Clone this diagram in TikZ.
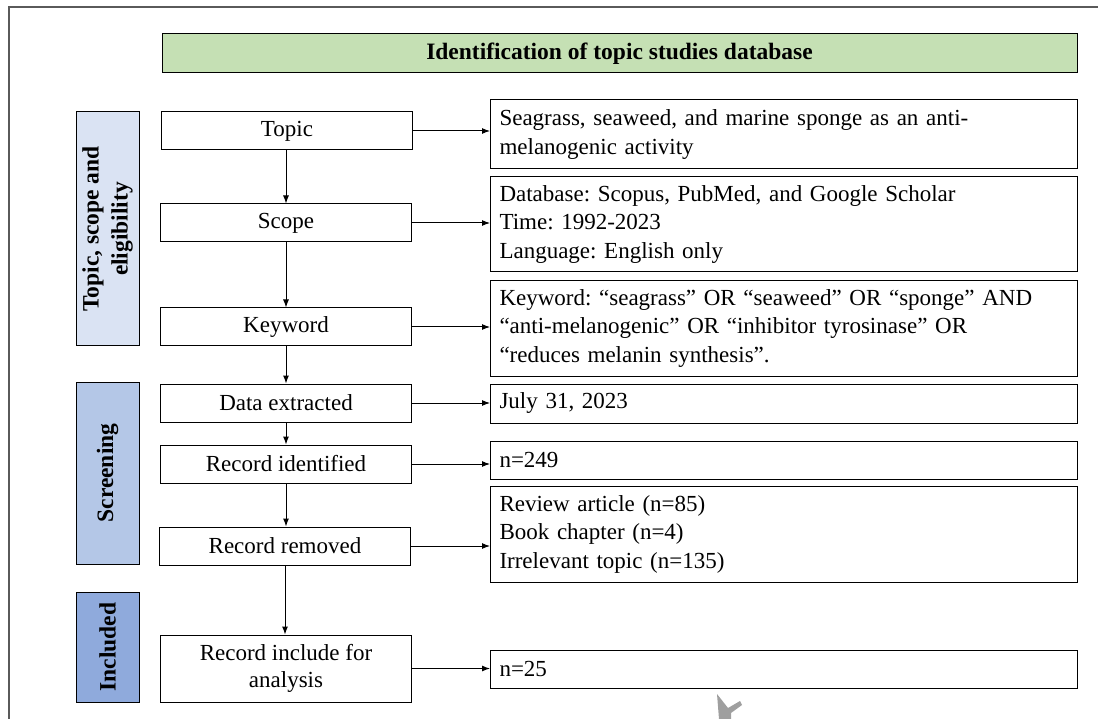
\documentclass[tikz,border=0pt]{standalone}
\usepackage{xcolor}
\usepackage{fontspec}
\setmainfont{Liberation Serif}
\usetikzlibrary{arrows.meta, positioning, calc}

\definecolor{headgreen}{HTML}{C5E0B4}
\definecolor{phaseone}{HTML}{DAE3F3}
\definecolor{phasetwo}{HTML}{B4C7E7}
\definecolor{phasethree}{HTML}{8FAADC}
\definecolor{framegray}{HTML}{5A5A5A}

\begin{document}
\frenchspacing
\begin{tikzpicture}[
	  x=1pt, y=-1pt,
	  font=\fontsize{23}{27}\selectfont,
	  stepbox/.style={
	    draw,
	    line width=1pt,
	    align=center,
	    minimum width=251pt,
	    minimum height=38pt,
	    inner sep=2pt
	  },
	  infobox/.style={
	    draw,
	    line width=1pt,
	    anchor=west,
	    align=left,
	    text width=569pt,
	    inner xsep=9pt,
	    inner ysep=2pt,
	    font=\fontsize{23}{28.5}\selectfont
	  },
	  phasebox/.style={
	    draw,
	    line width=1pt,
	    rotate=90,
	    align=center,
	    minimum height=63pt,
	    inner sep=2pt,
	    font=\fontsize{23.5}{29}\selectfont\bfseries
	  },
	  headbox/.style={draw, line width=1pt, fill=headgreen, minimum width=915pt,
	    minimum height=39pt, font=\fontsize{23.5}{27}\selectfont\bfseries},
	  arrow/.style={-{Latex[length=8pt,width=6pt]}, line width=1pt}
	]
	
	\useasboundingbox (0,0) rectangle (1098,719);
	\draw[framegray, line width=1.5pt] (9,719) -- (9,7) -- (1098,7);
	
	% Header
	\node[headbox] (head) at (619.5,53.5) {Identification of topic studies database};
	
	% Phase labels
	\node[phasebox, fill=phaseone, minimum width=234pt] (phtopic) at (107.5,229) {Topic, scope and\\eligibility};
	\node[phasebox, fill=phasetwo, minimum width=182pt] (phscreen) at (107.5,473) {Screening};
	\node[phasebox, fill=phasethree, minimum width=110pt] (phincl) at (107.5,647) {Included};
	
	% Step boxes
	\node[stepbox] (topic) at (287,131) {Topic};
	\node[stepbox] (scope) at (286,223) {Scope};
	\node[stepbox] (keyword) at (286,327) {Keyword};
	\node[stepbox] (data) at (286,403) {Data extracted};
	\node[stepbox] (ident) at (286,464) {Record identified};
	\node[stepbox] (removed) at (285,546) {Record removed};
	\node[stepbox, minimum height=67pt] (incl) at (286,668.5) {Record include for\\analysis};
	
	% Detail boxes
	\node[infobox, minimum height=69pt] (topicinfo) at (490,134.5)
	  {Seagrass, seaweed, and marine sponge as an anti-\\melanogenic activity};
	\node[infobox, minimum height=95pt] (scopeinfo) at (490,224.5)
	  {Database: Scopus, PubMed, and Google Scholar\\Time: 1992-2023\\Language: English only};
	\node[infobox, minimum height=95pt] (keyinfo) at (490,328.5)
	  {Keyword: “seagrass” OR “seaweed” OR “sponge” AND\\“anti-melanogenic” OR “inhibitor tyrosinase” OR\\“reduces melanin synthesis”.};
	\node[infobox, minimum height=39pt] (datainfo) at (490,403.5) {July 31, 2023};
	\node[infobox, minimum height=38pt] (identinfo) at (490,460) {n=249};
	\node[infobox, minimum height=96pt] (removedinfo) at (490,534)
	  {Review article (n=85)\\Book chapter (n=4)\\Irrelevant topic (n=135)};
	\node[infobox, minimum height=38pt] (inclinfo) at (490,669) {n=25};
	
	% Flow down
	\draw[arrow] (scope |- topic.south) -- (scope);
	\draw[arrow] (scope) -- (keyword);
	\draw[arrow] (keyword) -- (data);
	\draw[arrow] (data) -- (ident);
	\draw[arrow] (ident) -- (ident |- removed.north);
	\draw[arrow] (removed) -- (removed |- incl.north);
	
	% Details
	\draw[arrow] (topic.east) -- (topic.east -| topicinfo.west);
	\draw[arrow] (scope.east) -- (scope.east -| scopeinfo.west);
	\draw[arrow] (keyword.east) -- (keyword.east -| keyinfo.west);
	\draw[arrow] (data.east) -- (data.east -| datainfo.west);
	\draw[arrow] (ident.east) -- (ident.east -| identinfo.west);
	\draw[arrow] (removed.east) -- (removed.east -| removedinfo.west);
	\draw[arrow] (incl.east) -- (incl.east -| inclinfo.west);
	
	% Stray mark
	\fill[gray!75] (717,694) -- (728,708) -- (740,701) -- (742,705) -- (731,713) -- (731,719) -- (719,719) -- cycle;
	
	\end{tikzpicture}
\end{document}
